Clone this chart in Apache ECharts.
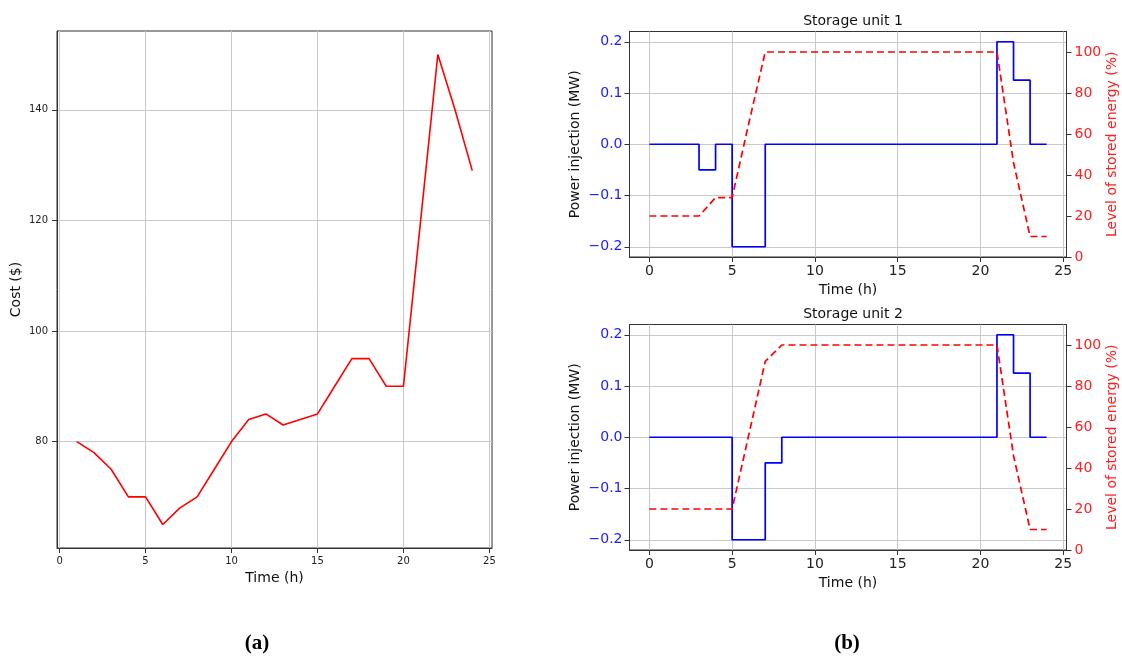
<!DOCTYPE html>
<html><head><meta charset="utf-8">
<script src="https://cdn.jsdelivr.net/npm/echarts@6/dist/echarts.min.js"></script>
<style>html,body{margin:0;padding:0;background:#fff}#c{width:1122px;height:657px}</style>
</head><body><div id="c"></div>
<script>
// ---- data ----
const hours = [1,2,3,4,5,6,7,8,9,10,11,12,13,14,15,16,17,18,19,20,21,22,23,24];
const cost = [80,78,75,70,70,65,68,70,75,80,84,85,83,84,85,90,95,95,90,90,120,150,140,129];

const time = [0,1,2,3,4,5,6,7,8,9,10,11,12,13,14,15,16,17,18,19,20,21,22,23,24];
const power1 = [0,0,0,-0.05,0,-0.2,-0.2,0,0,0,0,0,0,0,0,0,0,0,0,0,0,0.2,0.125,0,0];
const soc1 = [20,20,20,20,29,29,65,100,100,100,100,100,100,100,100,100,100,100,100,100,100,100,46,10,10];
const power2 = [0,0,0,0,0,-0.2,-0.2,-0.05,0,0,0,0,0,0,0,0,0,0,0,0,0,0.2,0.125,0,0];
const soc2 = [20,20,20,20,20,20,56,92,100,100,100,100,100,100,100,100,100,100,100,100,100,100,46,10,10];

const timeTicks = [0,5,10,15,20,25];
const costTicks = [80,100,120,140];
const powerTicks = [-0.2,-0.1,0,0.1,0.2];
const socTicks = [0,20,40,60,80,100];

const titles = ['Storage unit 1','Storage unit 2'];
const FONT = 'DejaVu Sans';
const GRIDC = '#c9c9c9';

function pairs(xs, ys){ return xs.map((x,i)=>[x, ys[i]]); }
function fmtPow(v){ return (v < -1e-9 ? '\u2212' : '') + Math.abs(v).toFixed(1); }

function xAx(grid, min, max, fs, labelMargin, nameGap, tickLen){
  return {
    type:'value', gridIndex:grid, min:min, max:max, position:'bottom',
    name:'Time (h)', nameLocation:'middle', nameGap:nameGap,
    nameTextStyle:{fontFamily:FONT, fontSize:14, color:'#111'},
    axisLine:{show:true, onZero:false, lineStyle:{color:'#333', width:1}},
    axisTick:{show:true, inside:false, length:tickLen, customValues:timeTicks, lineStyle:{color:'#333'}},
    axisLabel:{show:true, customValues:timeTicks, margin:labelMargin, fontFamily:FONT, fontSize:fs, color:'#222'},
    splitLine:{show:true, lineStyle:{color:GRIDC, width:1}}
  };
}

function richLabel(letter){
  return '{p|(}{b|' + letter + '}{p|)}';
}
const labelRich = {p:{fontFamily:'Liberation Serif', fontSize:21, color:'#000'},
                   b:{fontFamily:'Liberation Serif', fontSize:21, fontWeight:'bold', color:'#000'}};

const option = {
  animation:false,
  backgroundColor:'#fff',
  title:[
    {text:titles[0], left:848, top:9, textAlign:'center',
     textStyle:{fontFamily:FONT, fontSize:14, fontWeight:'normal', color:'#111'}},
    {text:titles[1], left:848, top:302, textAlign:'center',
     textStyle:{fontFamily:FONT, fontSize:14, fontWeight:'normal', color:'#111'}},
    {text:richLabel('a'), left:252, top:628, textAlign:'center', textStyle:{rich:labelRich}},
    {text:richLabel('b'), left:842, top:628, textAlign:'center', textStyle:{rich:labelRich}}
  ],
  grid:[
    {left:57, top:31, width:435, height:517, containLabel:false, outerBoundsMode:'none',
     show:true, borderColor:'#333', borderWidth:1, backgroundColor:'transparent'},
    {left:629.5, top:31.5, width:437, height:225.5, containLabel:false, outerBoundsMode:'none',
     show:true, borderColor:'#333', borderWidth:1, backgroundColor:'transparent'},
    {left:629.5, top:324.5, width:437, height:225.5, containLabel:false, outerBoundsMode:'none',
     show:true, borderColor:'#333', borderWidth:1, backgroundColor:'transparent'}
  ],
  xAxis:[
    xAx(0, -0.15, 25.15, 10, 8, 20, 5),
    xAx(1, -1.2, 25.2, 14, 7, 26, 5),
    xAx(2, -1.2, 25.2, 14, 7, 26, 5)
  ],
  yAxis:[
    {type:'value', gridIndex:0, min:60.75, max:154.25, position:'left',
     name:'Cost ($)', nameLocation:'middle', nameGap:34,
     nameTextStyle:{fontFamily:FONT, fontSize:14, color:'#111'},
     axisLine:{show:true, onZero:false, lineStyle:{color:'#333'}},
     axisTick:{show:true, length:5, customValues:costTicks, lineStyle:{color:'#333'}},
     axisLabel:{customValues:costTicks, margin:9, fontFamily:FONT, fontSize:10, color:'#222'},
     splitLine:{show:true, lineStyle:{color:GRIDC, width:1}}},
    // storage unit 1
    {type:'value', gridIndex:1, min:-0.22, max:0.22, position:'left',
     name:'Power injection (MW)', nameLocation:'middle', nameGap:47,
     nameTextStyle:{fontFamily:FONT, fontSize:14, color:'#111'},
     axisLine:{show:true, onZero:false, lineStyle:{color:'#333'}},
     axisTick:{show:true, length:5, customValues:powerTicks, lineStyle:{color:'#333'}},
     axisLabel:{customValues:powerTicks, margin:7, fontFamily:FONT, fontSize:14, color:'#2020ff', formatter:fmtPow},
     splitLine:{show:true, lineStyle:{color:GRIDC, width:1}}},
    {type:'value', gridIndex:1, min:0, max:110, position:'right',
     name:'Level of stored energy (%)', nameLocation:'middle', nameGap:39,
     nameTextStyle:{fontFamily:FONT, fontSize:14, color:'#ff2020'},
     axisLine:{show:true, onZero:false, lineStyle:{color:'#333'}},
     axisTick:{show:true, length:5, customValues:socTicks, lineStyle:{color:'#333'}},
     axisLabel:{customValues:socTicks, margin:8, fontFamily:FONT, fontSize:14, color:'#ff2020'},
     splitLine:{show:false}},
    // storage unit 2
    {type:'value', gridIndex:2, min:-0.22, max:0.22, position:'left',
     name:'Power injection (MW)', nameLocation:'middle', nameGap:47,
     nameTextStyle:{fontFamily:FONT, fontSize:14, color:'#111'},
     axisLine:{show:true, onZero:false, lineStyle:{color:'#333'}},
     axisTick:{show:true, length:5, customValues:powerTicks, lineStyle:{color:'#333'}},
     axisLabel:{customValues:powerTicks, margin:7, fontFamily:FONT, fontSize:14, color:'#2020ff', formatter:fmtPow},
     splitLine:{show:true, lineStyle:{color:GRIDC, width:1}}},
    {type:'value', gridIndex:2, min:0, max:110, position:'right',
     name:'Level of stored energy (%)', nameLocation:'middle', nameGap:39,
     nameTextStyle:{fontFamily:FONT, fontSize:14, color:'#ff2020'},
     axisLine:{show:true, onZero:false, lineStyle:{color:'#333'}},
     axisTick:{show:true, length:5, customValues:socTicks, lineStyle:{color:'#333'}},
     axisLabel:{customValues:socTicks, margin:8, fontFamily:FONT, fontSize:14, color:'#ff2020'},
     splitLine:{show:false}}
  ],
  series:[
    {type:'line', xAxisIndex:0, yAxisIndex:0, data:pairs(hours, cost), showSymbol:false,
     lineStyle:{color:'#ff0000', width:1.6}, z:3},
    {type:'line', xAxisIndex:1, yAxisIndex:1, data:pairs(time, power1), showSymbol:false, step:'end',
     lineStyle:{color:'#0000ff', width:1.7}, z:3},
    {type:'line', xAxisIndex:1, yAxisIndex:2, data:pairs(time, soc1), showSymbol:false,
     lineStyle:{color:'#ff0000', width:1.7, type:[7,4]}, z:4},
    {type:'line', xAxisIndex:2, yAxisIndex:3, data:pairs(time, power2), showSymbol:false, step:'end',
     lineStyle:{color:'#0000ff', width:1.7}, z:3},
    {type:'line', xAxisIndex:2, yAxisIndex:4, data:pairs(time, soc2), showSymbol:false,
     lineStyle:{color:'#ff0000', width:1.7, type:[7,4]}, z:4}
  ]
};
const chart = echarts.init(document.getElementById('c'), null, {renderer:'canvas'});
chart.setOption(option);
</script>
</body></html>
